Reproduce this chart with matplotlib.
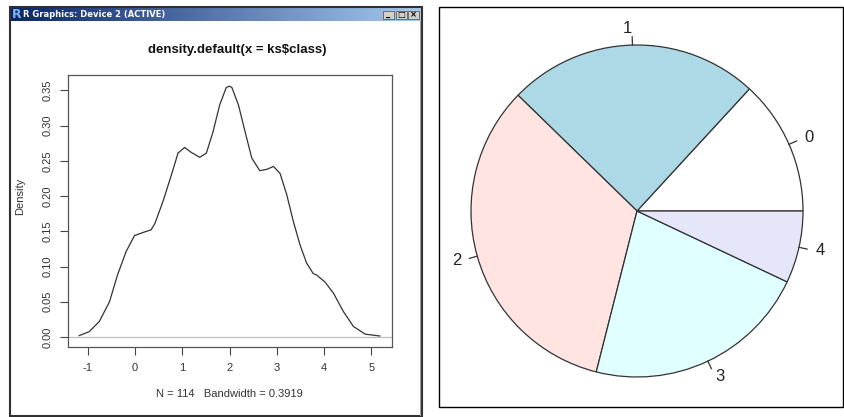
import numpy as np
import matplotlib
matplotlib.use("Agg")
import matplotlib.pyplot as plt
from matplotlib.patches import Rectangle
from matplotlib.colors import LinearSegmentedColormap

plt.rcParams['font.family'] = ['Liberation Sans', 'DejaVu Sans']

# density curve (ks$class, N = 114, bw = 0.3919)
dens_x = [-1.18, -0.97, -0.755, -0.54, -0.37, -0.19, -0.01, 0.2, 0.34, 0.42,
          0.59, 0.77, 0.91, 1.05, 1.19, 1.37, 1.51, 1.65, 1.79, 1.93,
          2.0, 2.05, 2.19, 2.33, 2.47, 2.64, 2.79, 2.93, 3.07, 3.21,
          3.35, 3.49, 3.63, 3.77, 3.84, 4.02, 4.20, 4.41, 4.62, 4.87, 5.18]
dens_y = [0.002, 0.0075, 0.022, 0.050, 0.088, 0.121, 0.144, 0.149, 0.152, 0.161,
          0.192, 0.230, 0.261, 0.269, 0.262, 0.255, 0.261, 0.291, 0.329, 0.354,
          0.356, 0.354, 0.329, 0.291, 0.254, 0.236, 0.238, 0.242, 0.232, 0.202,
          0.164, 0.131, 0.105, 0.090, 0.088, 0.078, 0.062, 0.036, 0.015, 0.004, 0.0014]
x_ticks = [-1, 0, 1, 2, 3, 4, 5]
y_ticks = [0.00, 0.05, 0.10, 0.15, 0.20, 0.25, 0.30, 0.35]

# pie of class counts
classes = ['0', '1', '2', '3', '4']
counts = [15, 28, 38, 25, 8]
pie_colors = ['white', 'lightblue', 'mistyrose', 'lightcyan', 'lavender']

W, H = 844, 417
fig = plt.figure(figsize=(W / 100, H / 100), dpi=100)


def box(x0, y0, x1, y1):
    # pixel box (top-left origin) -> figure fractions
    return [x0 / W, 1 - y1 / H, (x1 - x0) / W, (y1 - y0) / H]


def fxy(px, py):
    return px / W, 1 - py / H


# ---- R graphics window ----
tb = fig.add_axes(box(10, 7, 421, 21))
grad = np.linspace(0, 1, 256).reshape(1, -1)
tb.imshow(grad, aspect='auto', extent=[0, 1, 0, 1],
          cmap=LinearSegmentedColormap.from_list('tb', ['#0a246a', '#a6caf0']))
tb.set_axis_off()
fig.text(*fxy(12, 14.5), 'R', color='#7fb2f0', fontsize=9, fontweight='bold',
         va='center', ha='left', family=['DejaVu Sans'])
fig.text(*fxy(23, 14.5), 'R Graphics: Device 2 (ACTIVE)', color='white',
         fontsize=6, fontweight='bold', va='center', ha='left', family=['DejaVu Sans'])
for bx, sym in zip([383, 395.5, 408], ['_', '□', '×']):
    fig.patches.append(Rectangle(fxy(bx, 18.5), 11 / W, 8 / H, transform=fig.transFigure,
                                 facecolor='#d4d0c8', edgecolor='#606060', lw=0.6))
    fig.text(*fxy(bx + 5.5, 14.3), sym, fontsize=6, fontweight='bold',
             ha='center', va='center', family=['DejaVu Sans'])
fig.patches.append(Rectangle(fxy(9.5, 415.5), 412.5 / W, 409 / H, transform=fig.transFigure,
                             fill=False, edgecolor='#303030', lw=1.5))
fig.lines.append(plt.Line2D([420 / W, 420 / W], [1 - 21 / H, 1 - 415 / H],
                            transform=fig.transFigure, color='#a0a0a0', lw=0.8))

# ---- density plot ----
ax = fig.add_axes(box(67.7, 75.3, 391.7, 346.7))
ax.axhline(0, color='#bdbdbd', lw=0.9)
ax.plot(dens_x, dens_y, color='#333333', lw=0.9)
ax.set_xlim(-1.424, 5.431)
ax.set_ylim(-0.0138, 0.3714)
ax.set_xticks(x_ticks)
ax.set_xticklabels([str(v) for v in x_ticks])
ax.set_yticks(y_ticks)
ax.set_yticklabels([f'{v:.2f}' for v in y_ticks], rotation=90, va='center')
ax.tick_params(direction='out', length=6, width=0.8, color='#444444',
               labelsize=8, labelcolor='#333333')
ax.tick_params(axis='x', pad=6)
ax.tick_params(axis='y', pad=5)
for s in ax.spines.values():
    s.set_color('#555555')
    s.set_linewidth(0.9)

fig.text(*fxy(237, 50), 'density.default(x = ks$class)', fontsize=9.5,
         fontweight='bold', ha='center', va='center', color='#111111')
fig.text(*fxy(20, 196), 'Density', rotation=90, fontsize=8,
         ha='center', va='center', color='#333333')
fig.text(*fxy(229, 394), 'N = 114   Bandwidth = 0.3919', fontsize=8,
         ha='center', va='center', color='#333333')

# ---- pie ----
fig.patches.append(Rectangle(fxy(439, 407), 403.5 / W, 400 / H, transform=fig.transFigure,
                             fill=False, edgecolor='black', lw=1.0))
cx, cy, r = 637, 211, 166
L = 1.2
ax2 = fig.add_axes(box(cx - L * r, cy - L * r, cx + L * r, cy + L * r))
ax2.pie(counts, colors=pie_colors, startangle=0, counterclock=True,
        wedgeprops=dict(edgecolor='#333333', linewidth=0.9))
ax2.set_xlim(-L, L)
ax2.set_ylim(-L, L)
ax2.set_aspect('equal')
ax2.set_axis_off()

frac = np.array(counts) / np.sum(counts)
edges = np.concatenate([[0], np.cumsum(frac)])
for lab, a0, a1 in zip(classes, edges[:-1], edges[1:]):
    t = 2 * np.pi * (a0 + a1) / 2
    c, s = np.cos(t), np.sin(t)
    ax2.plot([c, 1.05 * c], [s, 1.05 * s], color='#333333', lw=0.9)
    ax2.text(1.1 * c, 1.1 * s, lab, fontsize=12, color='#222222',
             ha='left' if c > 0 else 'right', va='center')

fig.savefig('out.png', dpi=100)
plt.close(fig)
